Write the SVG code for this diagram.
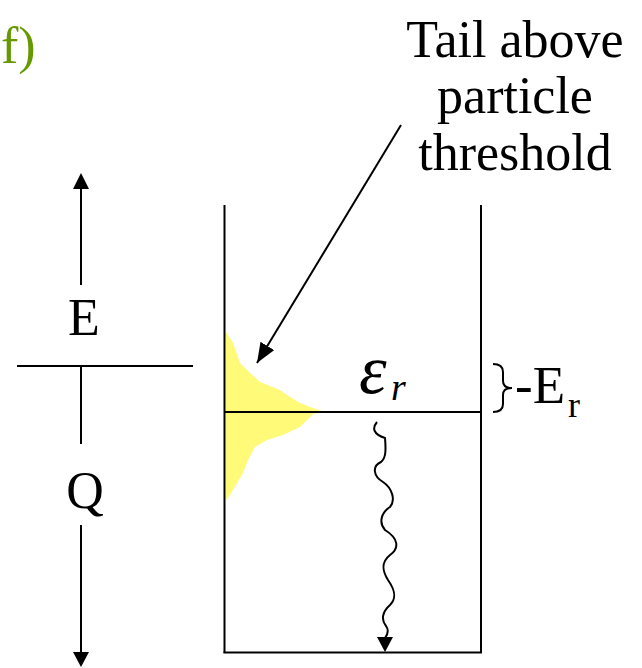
<svg xmlns="http://www.w3.org/2000/svg" width="642" height="668" viewBox="0 0 642 668">
<defs>
<style>
.ln{stroke:#000;stroke-width:2;fill:none}
.t{font-family:"Liberation Serif","Times New Roman",serif;fill:#000}
</style>
<marker id="ah" viewBox="0 0 20 16" refX="20" refY="8" markerWidth="20" markerHeight="16" markerUnits="userSpaceOnUse" orient="auto">
<path d="M0,0 L20,8 L0,16 Z" fill="#000"/>
</marker>
</defs>
<rect width="642" height="668" fill="#fff"/>
<g id="label-f"><text class="t" x="1" y="63" font-size="52" style="fill:#669900">f)</text></g>
<g id="axis">
<line class="ln" x1="81" y1="285" x2="81" y2="187"/>
<path d="M73,189 L81,173 L89,189 Z" fill="#000"/>
<line class="ln" x1="17" y1="366" x2="193" y2="366"/>
<line class="ln" x1="81" y1="366" x2="81" y2="444"/>
<line class="ln" x1="81" y1="525" x2="81" y2="654"/>
<path d="M73,652 L81,667 L89,652 Z" fill="#000"/>
<text class="t" x="84" y="335" font-size="52" text-anchor="middle">E</text>
<text class="t" x="85" y="508" font-size="52" text-anchor="middle">Q</text>
</g>
<g id="distribution">
<path d="M226,332 L233,343 L240,363 L250,373 L260,382 L280,390 L287,395 L300,403 L310,407 L322,411 L327,412 L313,414 L300,427 L283,435 L267,440 L255,447 L248,460 L243,473 L237,483 L230,495 L226,500 Z" fill="#FFFA78"/>
</g>
<g id="well">
<line class="ln" x1="224.5" y1="205" x2="224.5" y2="653"/>
<line class="ln" x1="481" y1="205" x2="481" y2="653"/>
<line class="ln" x1="223.5" y1="652.5" x2="482" y2="652.5"/>
<line class="ln" x1="224.5" y1="412" x2="481" y2="412"/>
</g>
<g id="level-label">
<text class="t" x="359" y="393" font-size="70" font-style="italic">ε</text>
<text class="t" x="391" y="400" font-size="38" font-style="italic">r</text>
</g>
<g id="er-label">
<path class="ln" d="M493,364 Q503,364 503,372 L503,381 Q503,388 512,388 Q503,388 503,395 L503,404 Q503,412 493,412"/>
<text class="t" x="515" y="403" font-size="53">-E</text>
<text class="t" x="568" y="417" font-size="36">r</text>
</g>
<g id="callout">
<text class="t" font-size="52" text-anchor="middle"><tspan x="515" y="57">Tail above</tspan><tspan x="515" y="113">particle</tspan><tspan x="515" y="170">threshold</tspan></text>
</g>
<g id="connectors">
<line class="ln" x1="401" y1="125" x2="257" y2="363" marker-end="url(#ah)"/>
<path class="ln" d="M377,422 C372,428 373,434 385,438 C386,450 386,458 381,462 C372,466 373,476 383,482 C392,488 396,500 390,507 C382,512 378,522 385,530 C398,538 400,548 390,555 C380,563 383,572 388,580 C395,590 397,598 390,605 C382,612 381,620 386,626 C389,630 388,634 385,638"/>
<path d="M377,637 L393,637 L385,652 Z" fill="#000"/>
</g>
</svg>
